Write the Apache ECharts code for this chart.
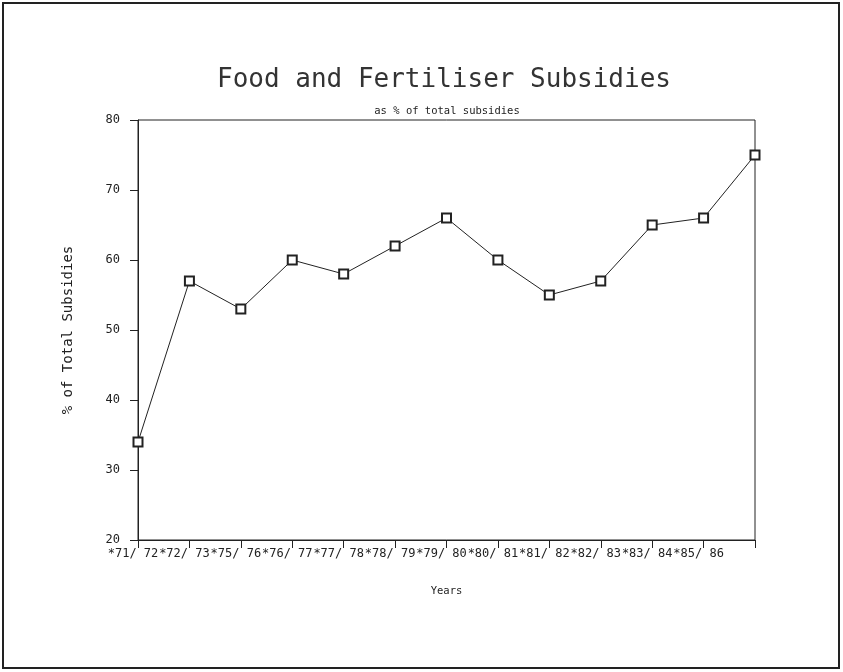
<!DOCTYPE html>
<html>
<head>
<meta charset="utf-8">
<script src="https://cdn.jsdelivr.net/npm/echarts@6/dist/echarts.min.js"></script>
<style>
html,body{margin:0;padding:0;background:#fff;}
#chart{width:843px;height:672px;}
</style>
</head>
<body>
<div id="chart"></div>
<script>
var categories = ['71/ 72','72/ 73','75/ 76','76/ 77','77/ 78','78/ 79','79/ 80','80/ 81','81/ 82','82/ 83','83/ 84','85/ 86',''];
var values = [34, 57, 53, 60, 58, 62, 66, 60, 55, 57, 65, 66, 75];
var yTicks = [20, 30, 40, 50, 60, 70, 80];

var FONT = '"DejaVu Sans Mono", "Liberation Mono", monospace';
var chart = echarts.init(document.getElementById('chart'));
chart.setOption({
  backgroundColor: '#fff',
  animation: false,
  title: [{
    text: 'Food and Fertiliser Subsidies',
    left: 439, top: 62, textAlign: 'center',
    textStyle: {fontFamily: FONT, fontSize: 26, fontWeight: 'normal', color: '#333'}
  }, {
    text: 'as % of total subsidies',
    left: 442, top: 101, textAlign: 'center',
    textStyle: {fontFamily: FONT, fontSize: 10.5, fontWeight: 'normal', color: '#222'}
  }],
  graphic: [{
    type: 'rect', shape: {x: 3, y: 3, width: 836, height: 665},
    style: {fill: 'none', stroke: '#222', lineWidth: 2}
  }],
  grid: {left: 138, right: 88, top: 120, bottom: 132, show: true, borderColor: '#222', borderWidth: 1, backgroundColor: 'transparent'},
  xAxis: {
    type: 'category', data: categories, boundaryGap: false,
    name: 'Years', nameLocation: 'middle', nameGap: 46,
    nameTextStyle: {fontFamily: FONT, fontSize: 10.5, color: '#222'},
    axisLine: {lineStyle: {color: '#222', width: 1}},
    axisTick: {show: true, length: 8, inside: false, alignWithLabel: true, lineStyle: {color: '#222'}},
    axisLabel: {
      interval: 0, margin: 8, fontFamily: FONT, fontSize: 12, color: '#222',
      padding: [0, 10, 0, 0],
      formatter: function (v) { return v ? '*' + v : ''; }
    },
    splitLine: {show: false}
  },
  yAxis: {
    type: 'value', min: 20, max: 80, interval: 10,
    name: '% of Total Subsidies', nameLocation: 'middle', nameGap: 63, nameRotate: 90,
    nameTextStyle: {fontFamily: FONT, fontSize: 14, color: '#222'},
    axisLine: {show: true, lineStyle: {color: '#222', width: 1}},
    axisTick: {show: true, length: 8, lineStyle: {color: '#222'}},
    axisLabel: {margin: 18, fontFamily: FONT, fontSize: 12, color: '#222',
      formatter: function (v) { return yTicks.indexOf(v) >= 0 ? String(v) : ''; }},
    splitLine: {show: false}
  },
  series: [{
    type: 'line', data: values,
    symbol: 'emptyRect', symbolSize: 9, showSymbol: true,
    lineStyle: {color: '#222', width: 1},
    itemStyle: {color: '#222', borderColor: '#222', borderWidth: 1}
  }]
});
</script>
</body>
</html>
